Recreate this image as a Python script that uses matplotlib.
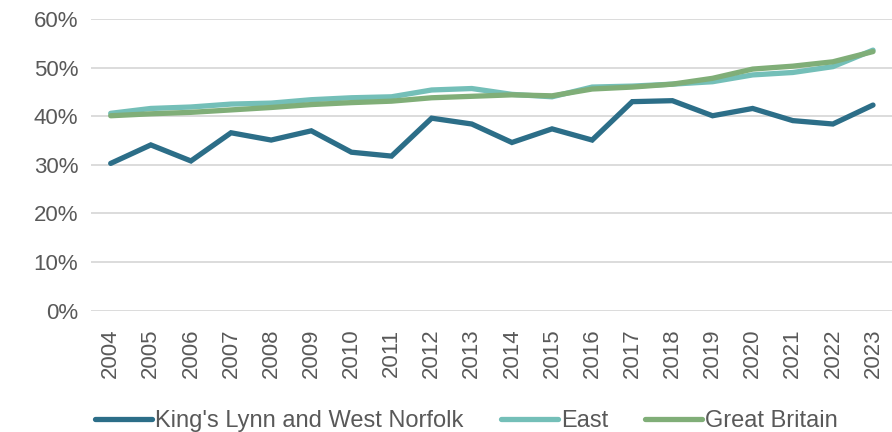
import matplotlib
matplotlib.use('Agg')
import matplotlib.pyplot as plt
from matplotlib.ticker import PercentFormatter

plt.rcParams['font.family'] = ['Liberation Sans', 'DejaVu Sans']

years = [str(y) for y in range(2004, 2024)]

# share of residents (percent)
kings_lynn = [30.3, 34.1, 30.8, 36.6, 35.1, 37.0, 32.6, 31.8, 39.6, 38.4,
              34.6, 37.4, 35.1, 43.0, 43.2, 40.1, 41.6, 39.1, 38.4, 42.3]
east = [40.6, 41.6, 41.9, 42.5, 42.7, 43.4, 43.8, 44.0, 45.4, 45.7,
        44.5, 44.0, 46.0, 46.2, 46.6, 47.1, 48.5, 49.0, 50.2, 53.6]
great_britain = [40.1, 40.5, 40.8, 41.3, 41.8, 42.4, 42.8, 43.1, 43.8, 44.1,
                 44.4, 44.2, 45.6, 46.0, 46.6, 47.8, 49.7, 50.3, 51.2, 53.3]

series = [("King's Lynn and West Norfolk", kings_lynn, '#2C6E88'),
          ('East', east, '#74BFB8'),
          ('Great Britain', great_britain, '#80AE78')]

fig = plt.figure(figsize=(8.92, 4.32), dpi=100)
ax = fig.add_axes([0.1016, 0.2808, 0.8996, 0.6752])

x = range(len(years))
for name, vals, col in series:
    ax.plot(x, vals, color=col, lw=3.8, label=name, solid_capstyle='round',
            solid_joinstyle='miter')

ax.set_xlim(-0.5, len(years) - 0.5)
ax.set_ylim(0, 60)
ax.set_yticks(range(0, 61, 10))
ax.yaxis.set_major_formatter(PercentFormatter(decimals=0))
ax.set_xticks(list(x))
ax.set_xticklabels(years, rotation=90)

ax.grid(axis='y', color='#D9D9D9', lw=1.3)
ax.set_axisbelow(True)
for s in ax.spines.values():
    s.set_visible(False)
ax.tick_params(axis='both', length=0, labelsize=16, labelcolor='#595959')
ax.tick_params(axis='y', pad=9)
ax.tick_params(axis='x', pad=13)

fig.legend(loc='center', bbox_to_anchor=(0.523, 0.025), ncol=3, frameon=False,
           fontsize=17, labelcolor='#595959', handlelength=2.42,
           handletextpad=0.13, columnspacing=1.57)

plt.savefig('out.png', dpi=100)
